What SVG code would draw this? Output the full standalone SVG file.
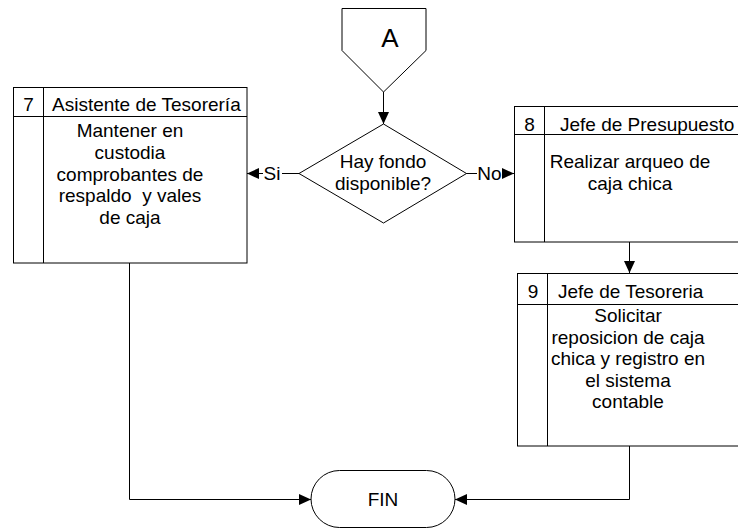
<svg xmlns="http://www.w3.org/2000/svg" width="738" height="530" viewBox="0 0 738 530">
<defs>
<marker id="ah" viewBox="0 0 12 12" refX="12" refY="6" markerWidth="12" markerHeight="12" markerUnits="userSpaceOnUse" orient="auto">
<path d="M0,0.5 L12,6 L0,11.5 Z" fill="#000"/>
</marker>
<style>
.s{fill:#fff;stroke:#000;stroke-width:1}
.l{fill:none;stroke:#000;stroke-width:1}
.c{fill:none;stroke:#000;stroke-width:1;marker-end:url(#ah)}
text{font-family:"Liberation Sans",Arial,sans-serif;font-size:19px;fill:#000}
.m{text-anchor:middle}
</style>
</defs>
<rect width="738" height="530" fill="#fff"/>
<g id="connectors">
<path class="c" d="M383.5,92 V124"/>
<path class="l" d="M299,173.5 H282"/>
<path class="c" d="M263,173.5 H247"/>
<path class="l" d="M466,173.5 H477"/>
<path class="c" d="M502,173.5 H514"/>
<path class="c" d="M629.5,242 V273"/>
<path class="c" d="M129.5,263 V499.5 H311"/>
<path class="c" d="M629.5,446 V499.5 H455"/>
<text x="272" y="180" class="m">Si</text>
<text x="489.5" y="180" class="m">No</text>
</g>
<g id="connA">
<path class="s" d="M342,8.5 H426 V50.5 L383.5,92 L342,50.5 Z"/>
<text x="390" y="47" class="m" style="font-size:26px">A</text>
</g>
<g id="decision">
<path class="s" d="M383.5,124 L466.5,173.5 L383.5,223 L299,173.5 Z"/>
<text x="383" y="168" class="m">Hay fondo</text>
<text x="383" y="190" class="m">disponible?</text>
</g>
<g id="box7">
<rect class="s" x="13.5" y="87.5" width="233.5" height="175.5"/>
<path class="l" d="M13.5,116.5 H247 M43.5,87.5 V263"/>
<text x="28.5" y="111" class="m">7</text>
<text x="52" y="111">Asistente de Tesorería</text>
<text x="130" y="137" class="m">Mantener en</text>
<text x="130" y="158.5" class="m">custodia</text>
<text x="130" y="180.5" class="m">comprobantes de</text>
<text x="130" y="202" class="m" xml:space="preserve">respaldo  y vales</text>
<text x="130" y="223.5" class="m">de caja</text>
</g>
<g id="box8">
<rect class="s" x="514.5" y="106.5" width="240" height="135.5"/>
<path class="l" d="M514.5,134.5 H740 M544.5,106.5 V242"/>
<text x="529.5" y="131" class="m">8</text>
<text x="560" y="131">Jefe de Presupuesto</text>
<text x="630" y="168" class="m">Realizar arqueo de</text>
<text x="630" y="190" class="m">caja chica</text>
</g>
<g id="box9">
<rect class="s" x="517.5" y="273.5" width="240" height="172.5"/>
<path class="l" d="M517.5,304.5 H740 M547.5,273.5 V446"/>
<text x="533" y="297.5" class="m">9</text>
<text x="558" y="297.5">Jefe de Tesoreria</text>
<text x="628" y="322" class="m">Solicitar</text>
<text x="628" y="343.5" class="m">reposicion de caja</text>
<text x="628" y="365" class="m">chica y registro en</text>
<text x="628" y="386.5" class="m">el sistema</text>
<text x="628" y="408" class="m">contable</text>
</g>
<g id="fin">
<rect class="s" x="311" y="470.5" width="144" height="57" rx="28.5" ry="28.5"/>
<text x="383" y="506" class="m">FIN</text>
</g>
</svg>
